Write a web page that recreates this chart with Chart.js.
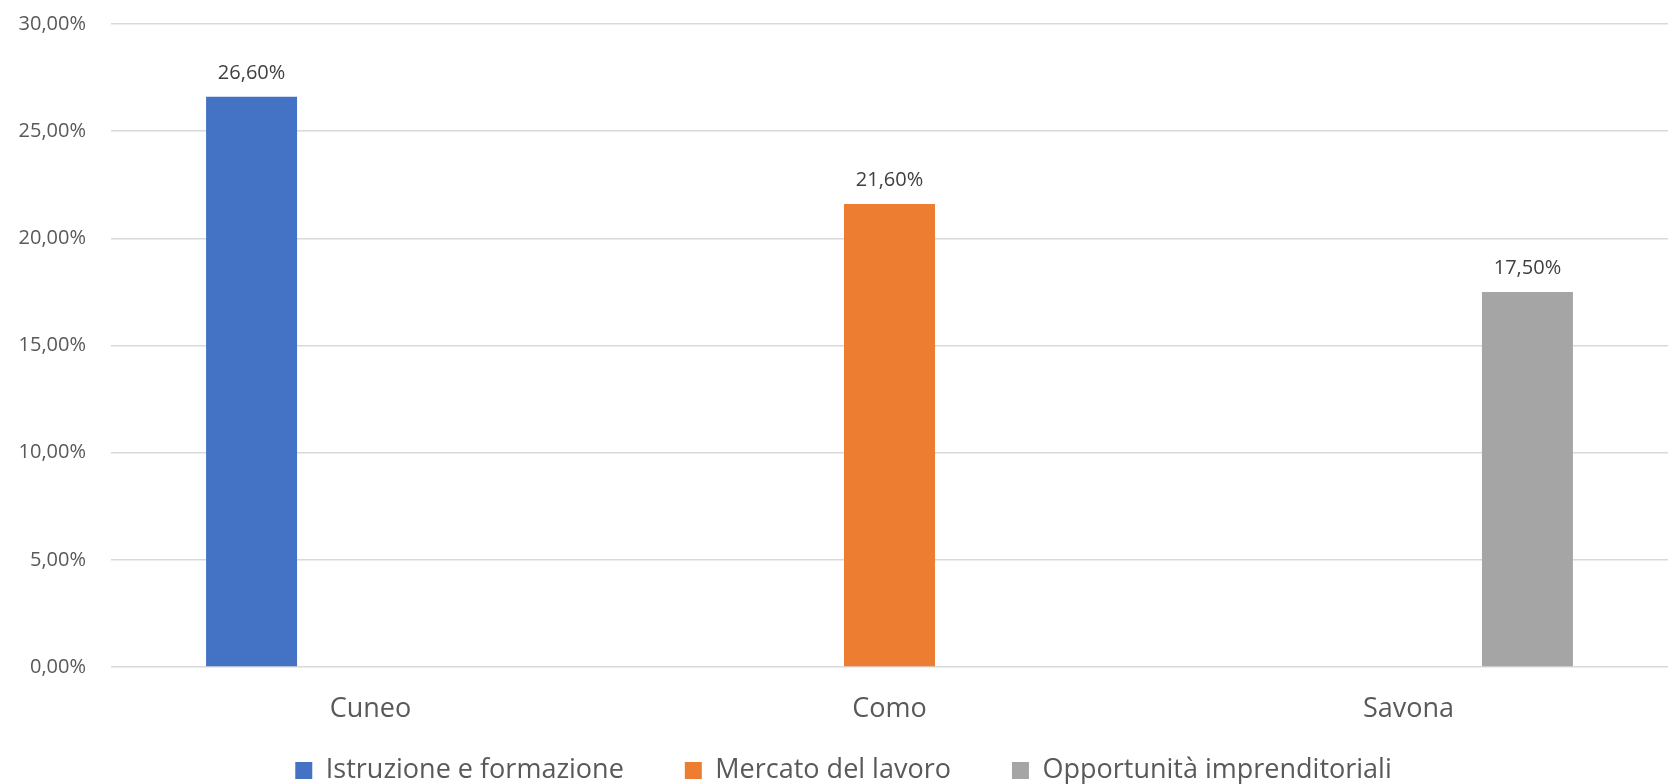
<!DOCTYPE html>
<html lang="it">
<head>
<meta charset="utf-8">
<title>Istruzione, lavoro e opportunità</title>
<script src="https://cdn.jsdelivr.net/npm/chart.js@4/dist/chart.umd.min.js"></script>
<style>
    html, body { margin: 0; padding: 0; background: #ffffff; }
    #wrap { width: 1668px; height: 784px; position: relative; }
</style>
</head>
<body>
<div id="wrap"><canvas id="chart"></canvas></div>
<script>
// dati
const categories = ['Cuneo', 'Como', 'Savona'];
const seriesNames = ['Istruzione e formazione', 'Mercato del lavoro', 'Opportunità imprenditoriali'];
const istruzione = [26.6, null, null];
const mercato = [null, 21.6, null];
const opportunita = [null, null, 17.5];
const yTicks = [0, 5, 10, 15, 20, 25, 30];

const seriesColors = ['#4472C4', '#ED7D31', '#A5A5A5'];
const FONT = '"Open Sans", "DejaVu Sans", sans-serif';

// 26.6 -> "26,60%"
function formatPct(v) {
    return v.toFixed(2).replace('.', ',') + '%';
}

// etichette dei valori sopra le barre
const valueLabels = {
    id: 'valueLabels',
    afterDatasetsDraw(chart) {
        const ctx = chart.ctx;
        ctx.save();
        ctx.font = '20px ' + FONT;
        ctx.fillStyle = '#404040';
        ctx.textAlign = 'center';
        ctx.textBaseline = 'middle';
        chart.data.datasets.forEach((ds, i) => {
            chart.getDatasetMeta(i).data.forEach((bar, j) => {
                const v = ds.data[j];
                if (v === null || v === undefined) return;
                ctx.fillText(formatPct(v), bar.x, bar.y - 24);
            });
        });
        ctx.restore();
    }
};

const seriesData = [istruzione, mercato, opportunita];

new Chart(document.getElementById('chart'), {
    type: 'bar',
    data: {
        labels: categories,
        datasets: seriesNames.map((name, i) => ({
            label: name,
            data: seriesData[i],
            backgroundColor: seriesColors[i],
            borderWidth: 0,
            categoryPercentage: 0.6875,
            barPercentage: 0.765
        }))
    },
    options: {
        responsive: true,
        maintainAspectRatio: false,
        animation: false,
        layout: { padding: { left: 19, right: 0, top: 24, bottom: -10 } },
        plugins: {
            tooltip: { enabled: false },
            legend: {
                position: 'bottom',
                labels: {
                    font: { family: FONT, size: 27 },
                    color: '#595959',
                    boxWidth: 17,
                    boxHeight: 17,
                    padding: 34,
                    // un po' di spazio in più tra le voci, come in Excel
                    generateLabels(chart) {
                        const items = Chart.defaults.plugins.legend.labels.generateLabels(chart);
                        items.forEach((item, i) => {
                            if (i < items.length - 1) item.text += '\u2003';
                        });
                        return items;
                    }
                }
            }
        },
        scales: {
            x: {
                grid: { display: false, drawTicks: false },
                border: { display: false },
                ticks: {
                    font: { family: FONT, size: 27 },
                    color: '#595959',
                    padding: 26
                },
                afterFit(scale) {
                    scale.height = 56;
                }
            },
            y: {
                min: 0,
                max: 30,
                afterBuildTicks(scale) {
                    scale.ticks = yTicks.map(v => ({ value: v }));
                },
                afterFit(scale) {
                    scale.width = 92;
                    scale.paddingTop = 12;
                },
                grid: { color: '#d9d9d9', lineWidth: 1.5, drawTicks: false },
                border: { display: false },
                ticks: {
                    font: { family: FONT, size: 20 },
                    color: '#595959',
                    padding: 25,
                    callback: v => formatPct(v)
                }
            }
        }
    },
    plugins: [valueLabels]
});
</script>
</body>
</html>
